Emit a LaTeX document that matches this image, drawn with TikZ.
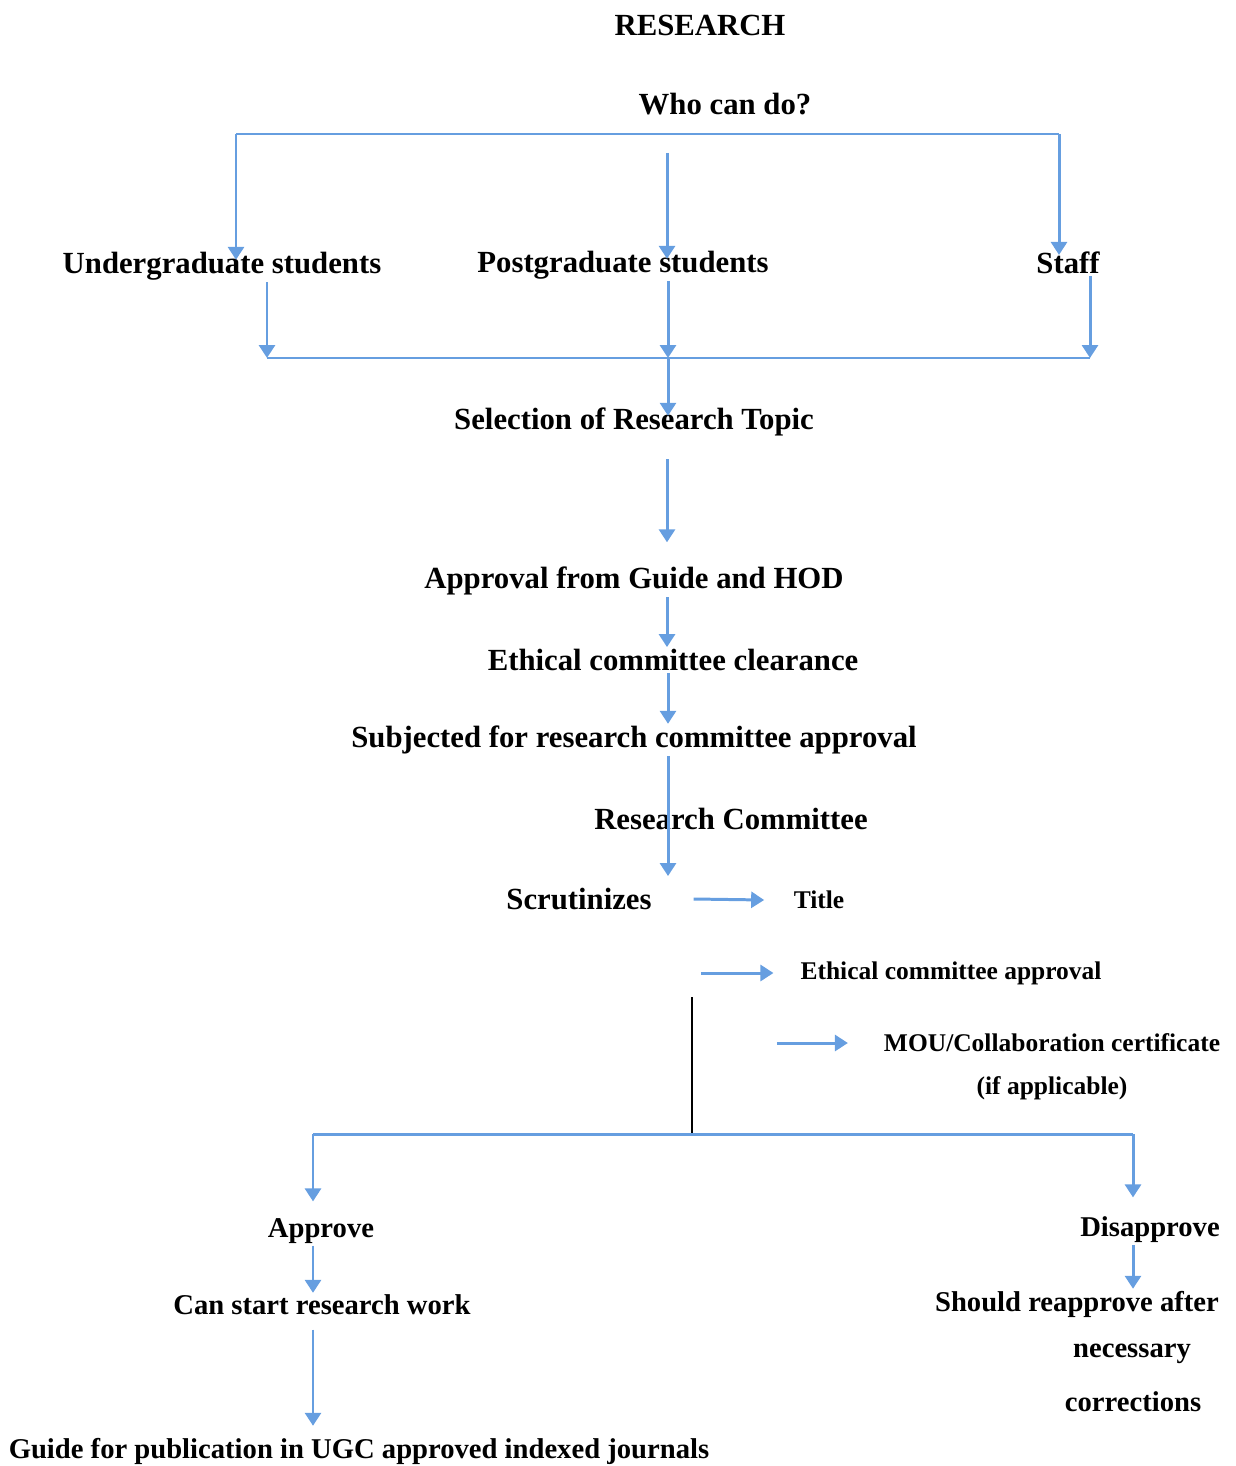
\documentclass[tikz,border=0pt]{standalone}
\usepackage{fontspec}
\setmainfont{Liberation Serif}
\usepackage{xcolor}
\usetikzlibrary{arrows.meta, positioning}

\definecolor{flowblue}{RGB}{102,158,224}

\begin{document}
\begin{tikzpicture}[
  x=0.02cm, y=-0.02cm,
  lbl/.style={inner sep=1pt, font=\fontsize{17.5}{21}\selectfont\bfseries},
  lbs/.style={inner sep=1pt, font=\fontsize{16.3}{20}\selectfont\bfseries},
  sml/.style={inner sep=1pt, font=\fontsize{14.5}{17}\selectfont\bfseries},
  bar/.style={draw=flowblue, line width=1.7pt},
  flow/.style={bar, -{Triangle[width=0.32cm, length=0.26cm]}},
]
\useasboundingbox (0,0) rectangle (1235,1466);

% labels
\node[lbl] (title) at (700,25) {RESEARCH};
\node[lbl] (who) at (725,104) {Who can do?};
\node[lbl] (ug) at (222,266) {Undergraduate students};
\node[lbl] (pg) at (623,265) {Postgraduate students};
\node[lbl] (staff) at (1068,263) {Staff};
\node[lbl] (sel) at (634,422) {Selection of Research Topic};
\node[lbl] (app) at (634,581) {Approval from Guide and HOD};
\node[lbl] (eth) at (673,660) {Ethical committee clearance};
\node[lbl] (sub) at (634,740) {Subjected for research committee approval};
\node[lbl] (rc) at (731,819) {Research Committee};
\node[lbl] (scr) at (579,899) {Scrutinizes};
\node[sml] (ttl) at (819,900) {Title};
\node[sml] (eca) at (951,973) {Ethical committee approval};
\node[sml] (mou) at (1052,1043) {MOU/Collaboration certificate};
\node[sml] (ifap) at (1052,1088) {(if applicable)};
\node[lbs] (apr) at (321,1231) {Approve};
\node[lbs] (dis) at (1150,1230) {Disapprove};
\node[lbs] (can) at (322,1305) {Can start research work};
\node[lbs] (sh1) at (1077,1304) {Should reapprove after};
\node[lbs] (sh2) at (1132,1354) {necessary};
\node[lbs] (sh3) at (1133,1402) {corrections};
\node[lbs] (gui) at (359,1451) {Guide for publication in UGC approved indexed journals};

% junctions
\coordinate (tl) at (236,134);
\coordinate (tr) at (1059,134);
\coordinate (mtop) at (667,153);
\coordinate (ml) at (267,358);
\coordinate (mm) at (668,358);
\coordinate (mr) at (1090,358);
\coordinate (spine) at (667,0);
\coordinate (dtop) at (692,997);
\coordinate (bl) at (313,1134);
\coordinate (dbot) at (692,1134);
\coordinate (br) at (1133,1134);

% who can do
\draw[bar] (tl) -- (tr);
\draw[flow, shorten >=-0.2cm] (tl) -- (tl |- ug.north);
\draw[flow, shorten >=-0.2cm] (mtop) -- (mtop |- pg.north);
\draw[flow, shorten >=-0.1cm] (tr) -- (tr |- staff.north);

% merge
\draw[flow] (ug.south -| ml) -- (ml);
\draw[flow] (pg.south -| mm) -- (mm);
\draw[flow] (staff.south -| mr) -- (mr);
\draw[bar] (ml) -- (mr);
\draw[flow, shorten >=-0.2cm] (mm) -- (mm |- sel.north);

% main chain
\draw[flow, shorten <=0.42cm, shorten >=0.45cm] (sel.south -| spine) -- (app.north -| spine);
\draw[flow] (app.south -| spine) -- (eth.north -| spine);
\draw[flow] (eth.south -| mm) -- (sub.north -| mm);
\draw[flow, shorten >=0.2cm] (sub.south -| mm) -- (scr.north -| mm);

% scrutinizes
\draw[flow] ([xshift=0.8cm]scr.east) -- ([xshift=-0.55cm]ttl.west);
\draw[flow] ([xshift=-1.95cm]eca.west) -- ([xshift=-0.5cm]eca.west);
\draw[flow] ([xshift=-2.1cm]mou.west) -- ([xshift=-0.68cm]mou.west);

% decision
\draw[line width=1.2pt] (dtop) -- (dbot);
\draw[bar] (bl) -- (br);
\draw[flow, shorten >=0.3cm] (bl) -- (bl |- apr.north);
\draw[flow, shorten >=0.35cm] (br) -- (br |- dis.north);
\draw[flow] (apr.south -| bl) -- (can.north -| bl);
\draw[flow] (dis.south -| br) -- (sh1.north -| br);
\draw[flow, shorten <=0.25cm, shorten >=0.2cm] (can.south -| bl) -- (gui.north -| bl);
\end{tikzpicture}
\end{document}
